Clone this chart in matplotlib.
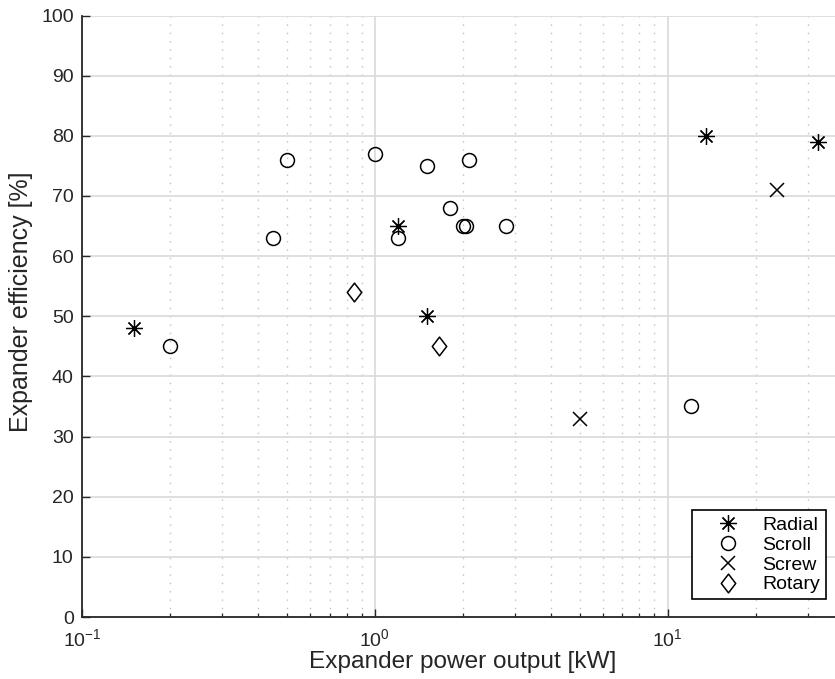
import matplotlib
matplotlib.use("Agg")
import matplotlib.pyplot as plt
from matplotlib.path import Path
from matplotlib.ticker import LogLocator, NullFormatter, MultipleLocator

plt.rcParams['font.family'] = ['Liberation Sans', 'DejaVu Sans']
plt.rcParams['mathtext.fontset'] = 'custom'
plt.rcParams['mathtext.rm'] = 'Liberation Sans'
plt.rcParams['mathtext.it'] = 'Liberation Sans'

# Data
radial_power = [0.15, 1.2, 1.5, 13.5, 32.5]
radial_eff = [48, 65, 50, 80, 79]
scroll_power = [0.2, 0.45, 0.5, 1.0, 1.2, 1.5, 1.8, 2.0, 2.05, 2.1, 2.8, 12.0]
scroll_eff = [45, 63, 76, 77, 63, 75, 68, 65, 65, 76, 65, 35]
screw_power = [5.0, 23.5]
screw_eff = [33, 71]
rotary_power = [0.85, 1.65]
rotary_eff = [54, 45]

fig = plt.figure(figsize=(8.35, 6.79), dpi=100)
W, H = 835, 679
ax = fig.add_axes([82 / W, 62 / H, (835 - 82) / W, (617 - 15.5) / H])

diamond = Path([(0, 1), (0.77, 0), (0, -1), (-0.77, 0), (0, 1)],
               [Path.MOVETO, Path.LINETO, Path.LINETO, Path.LINETO, Path.CLOSEPOLY])

kw = dict(linestyle='none', color='black', markerfacecolor='none')
ax.plot(radial_power, radial_eff, marker=(8, 2, 0), markersize=12, markeredgewidth=0.9,
        label='Radial', **kw)
ax.plot(scroll_power, scroll_eff, marker='o', markersize=10, markeredgewidth=1.1,
        label='Scroll', **kw)
ax.plot(screw_power, screw_eff, marker='x', markersize=10, markeredgewidth=1.1,
        label='Screw', **kw)
ax.plot(rotary_power, rotary_eff, marker=diamond, markersize=13.5, markeredgewidth=1.1,
        label='Rotary', **kw)

ax.set_xscale('log')
ax.set_xlim(0.1, 37.2)
ax.set_ylim(0, 100)
ax.yaxis.set_major_locator(MultipleLocator(10))
ax.xaxis.set_major_locator(LogLocator(base=10, numticks=10))
ax.xaxis.set_minor_locator(LogLocator(base=10, subs=range(2, 10), numticks=20))
ax.xaxis.set_minor_formatter(NullFormatter())

for s in ['top', 'right']:
    ax.spines[s].set_visible(False)
for s in ['left', 'bottom']:
    ax.spines[s].set_color('#262626')
    ax.spines[s].set_linewidth(1.3)

ax.tick_params(axis='both', which='major', direction='in', length=6, width=1.0,
               color='#262626', labelsize=14, labelcolor='#262626')
ax.tick_params(axis='x', which='major', pad=8)
ax.tick_params(axis='y', which='major', pad=6)
ax.tick_params(axis='x', which='minor', direction='in', length=3, width=0.9, color='#262626')
ax.tick_params(axis='y', which='minor', left=False)

ax.grid(True, which='major', axis='both', color='#dcdcdc', linewidth=1.3, linestyle='-')
ax.grid(True, which='minor', axis='x', color='#c0c0c0', linewidth=1.0, linestyle=(0, (1, 5)))
ax.set_axisbelow(True)

ax.set_xlabel('Expander power output [kW]', fontsize=17.6, color='#262626', labelpad=1)
ax.set_ylabel('Expander efficiency [%]', fontsize=18, color='#262626')
ax.yaxis.set_label_coords(-(82 - 33) / 753, (617 - 302) / 601.5)
xl_y = ax.xaxis.label.get_position()
ax.xaxis.label.set_x((463 - 82) / 753)

leg = ax.legend(loc='lower right', bbox_to_anchor=(826 / W, (679 - 599.3) / H),
                bbox_transform=fig.transFigure, fontsize=14, frameon=True, fancybox=False,
                edgecolor='black', framealpha=1, labelspacing=0.12, borderpad=0.3,
                handletextpad=0.2, handlelength=3.1, borderaxespad=0)
leg.get_frame().set_linewidth(1.2)

fig.savefig('out.png', dpi=100)
